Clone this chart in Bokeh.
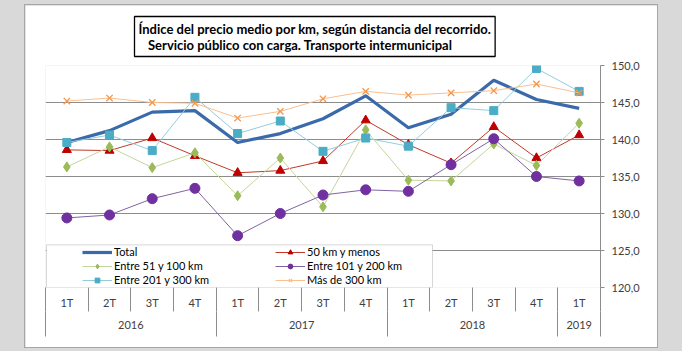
from bokeh.plotting import figure
from bokeh.layouts import column
from bokeh.models import (Range1d, FixedTicker, LinearAxis, CustomJSTickFormatter,
                          BoxAnnotation, Legend, LegendItem)
from bokeh.embed import file_html
from bokeh.resources import INLINE

# ---------------- data ----------------
quarters = ["1T", "2T", "3T", "4T", "1T", "2T", "3T", "4T", "1T", "2T", "3T", "4T", "1T"]
years = ["2016", "2017", "2018", "2019"]
year_counts = [4, 4, 4, 1]

total = [139.6, 141.2, 143.7, 143.9, 139.6, 140.8, 142.8, 145.9, 141.6, 143.4, 148.0, 145.4, 144.2]
km_50 = [138.6, 138.5, 140.2, 137.8, 135.5, 135.8, 137.1, 142.6, 139.3, 136.8, 141.7, 137.5, 140.6]
km_51_100 = [136.3, 139.0, 136.2, 138.2, 132.4, 137.5, 130.9, 141.3, 134.5, 134.4, 139.4, 136.5, 142.2]
km_101_200 = [129.4, 129.8, 132.0, 133.4, 127.0, 130.0, 132.5, 133.2, 133.0, 136.6, 140.1, 135.0, 134.4]
km_201_300 = [139.6, 140.6, 138.5, 145.7, 140.8, 142.5, 138.4, 140.2, 139.1, 144.3, 143.9, 149.6, 146.5]
km_300 = [145.2, 145.6, 145.0, 144.9, 142.9, 143.8, 145.5, 146.5, 146.0, 146.3, 146.6, 147.5, 146.3]

y_ticks = [120, 125, 130, 135, 140, 145, 150]

title_line1 = "Índice del precio medio por km, según distancia del recorrido."
title_line2 = "\u00a0\u00a0\u00a0Servicio público con carga. Transporte intermunicipal"

# ---------------- layout ----------------
PAGE_W, PAGE_H = 682, 351
PX, PY = 25, 5                      # white panel offset on the page
W, H = 632, 342                     # white panel (figure) size
FL, FR, FT, FB = 45 - PX, 600 - PX, 63 - PY, 287 - PY   # frame edges in figure px
FONT = "Lato"
TXT = "#404040"
GRID = "#8c8c8c"
NAN = float("nan")

x = list(range(len(quarters)))
n = len(quarters)

p = figure(width=W, height=H, output_backend="svg", toolbar_location=None,
           x_range=Range1d(-0.5, n - 0.5), y_range=Range1d(y_ticks[0], y_ticks[-1]),
           y_axis_location="right", x_axis_location=None,
           min_border_left=FL, min_border_right=W - FR,
           min_border_top=FT, min_border_bottom=H - FB,
           margin=(PY, PAGE_W - PX - W, PAGE_H - PY - H, PX),
           styles={"box-shadow": "0 0 0 1px #a6a6a6"})
p.border_fill_color = "white"
p.background_fill_color = "white"
p.outline_line_color = None

sx = (FR - FL) / n
sy = (FB - FT) / (y_ticks[-1] - y_ticks[0])
def px2x(px):
    return -0.5 + (px - PX - FL) / sx
def px2y(py):
    return y_ticks[-1] - (py - PY - FT) / sy

# y axis (right)
yax = p.yaxis[0]
yax.ticker = FixedTicker(ticks=y_ticks)
yax.formatter = CustomJSTickFormatter(code="return tick.toFixed(1).replace('.', ',');")
yax.axis_line_color = GRID
yax.major_tick_line_color = GRID
yax.major_tick_out = 4
yax.major_tick_in = 0
yax.minor_tick_line_color = None
yax.major_label_standoff = 7
yax.major_label_text_font = FONT
yax.major_label_text_font_size = "11px"
yax.major_label_text_color = TXT

p.ygrid.ticker = FixedTicker(ticks=y_ticks)
p.ygrid.grid_line_color = GRID
p.xgrid.grid_line_color = None

# x axes: quarters and years
bounds = [i - 0.5 for i in range(n + 1)]
qax = LinearAxis(ticker=FixedTicker(ticks=x, minor_ticks=bounds),
                 major_label_overrides={i: q for i, q in zip(x, quarters)})
qax.axis_line_color = None
qax.major_tick_line_color = None
qax.major_tick_out = 0
qax.major_tick_in = 0
qax.minor_tick_line_color = GRID
qax.minor_tick_out = 0
qax.minor_tick_in = -24
qax.major_label_standoff = 8
qax.major_label_text_font = FONT
qax.major_label_text_font_size = "11px"
qax.major_label_text_color = TXT

ycent, ybounds, s = [], [-0.5], 0
for c in year_counts:
    ycent.append(s + (c - 1) / 2)
    s += c
    ybounds.append(s - 0.5)
yrax = LinearAxis(ticker=FixedTicker(ticks=ycent, minor_ticks=ybounds),
                  major_label_overrides={c: yv for c, yv in zip(ycent, years)})
yrax.axis_line_color = None
yrax.major_tick_line_color = None
yrax.major_tick_out = 0
yrax.major_tick_in = 0
yrax.minor_tick_line_color = GRID
yrax.minor_tick_out = 0
yrax.minor_tick_in = -25
yrax.major_label_standoff = 9
yrax.major_label_text_font = FONT
yrax.major_label_text_font_size = "11px"
yrax.major_label_text_color = TXT
p.add_layout(qax, "below")
p.add_layout(yrax, "below")

# title
p.title.text = title_line1 + "\n" + title_line2
p.title.text_font = FONT
p.title.text_font_style = "bold"
p.title.text_font_size = "13px"
p.title.text_color = "black"
p.title.align = "left"
p.title.offset = 89
p.title.border_line_color = "black"
p.title.border_line_width = 1.3
p.title.background_fill_color = "white"
p.title.padding = 4
p.title.standoff = 18

# series
series = [
    ("Total", total, "#3b6aab", 3.2, None, None, None),
    ("50 km y menos", km_50, "#c0392b", 1, "triangle", "#c00000", 9),
    ("Entre 51 y 100 km", km_51_100, "#c3d69b", 1, "diamond", "#9bbb59", 10),
    ("Entre 101 y 200 km", km_101_200, "#8064a2", 1, "circle", "#7030a0", 10),
    ("Entre 201 y 300 km", km_201_300, "#93cddd", 1, "square", "#4bacc6", 8),
    ("Más de 300 km", km_300, "#fabf8f", 1, "x", "#f79646", 9),
]
items = {}
for name, vals, lc, lw, mk, mc, ms in series:
    line = p.line(x, vals, line_color=lc, line_width=lw, line_join="round")
    rs = [line]
    if mk:
        if mk == "x":
            p.scatter(x, vals, marker=mk, size=ms, line_color=mc, line_width=1.3)
            rs.append(p.scatter([NAN], [NAN], marker=mk, size=6, line_color=lc, line_width=1.2))
        else:
            p.scatter(x, vals, marker=mk, size=ms, fill_color=mc, line_color=mc)
            rs.append(p.scatter([NAN], [NAN], marker=mk, size=7, fill_color=mc, line_color=mc))
    items[name] = LegendItem(label=name, renderers=rs)

# legend box
p.add_layout(BoxAnnotation(left=px2x(46), right=px2x(432), top=px2y(244), bottom=px2y(287),
                           fill_color="white", fill_alpha=1, line_color="#7f7f7f",
                           line_width=1, level="overlay"))

order = ["Total", "Entre 51 y 100 km", "Entre 201 y 300 km",
         "50 km y menos", "Entre 101 y 200 km", "Más de 300 km"]
leg = Legend(items=[items[k] for k in order], ncols=2, location=(37, 1),
             orientation="vertical", padding=0, spacing=1, margin=0,
             glyph_width=30, glyph_height=12, label_height=12, label_width=160,
             label_standoff=2, border_line_color=None, background_fill_alpha=0,
             label_text_font=FONT, label_text_font_size="11px", label_text_color="black")
p.add_layout(leg, "center")

root = column(p, styles={"background-color": "#d9d9d9"}, width=PAGE_W, height=PAGE_H)
open("out.html", "w").write(file_html(root, INLINE))
